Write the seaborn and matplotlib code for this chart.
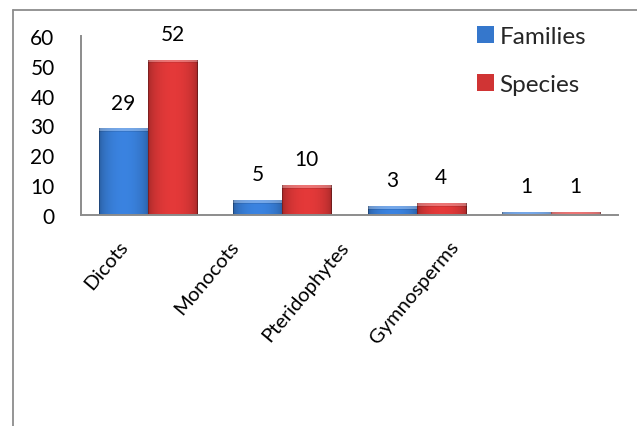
import numpy as np
import pandas as pd
import matplotlib
matplotlib.use("Agg")
import matplotlib.pyplot as plt
from matplotlib.lines import Line2D
from matplotlib.patches import Patch
from matplotlib.colors import to_rgb
from matplotlib.transforms import ScaledTranslation, blended_transform_factory
import seaborn as sns

# Plant group counts
groups = ["Dicots", "Monocots", "Pteridophytes", "Gymnosperms"]
families = [29, 5, 3, 1]
species = [52, 10, 4, 1]
series_names = ["Families", "Species"]
series_colors = ["#3577cc", "#d03434"]
y_ticks = [0, 10, 20, 30, 40, 50, 60]

df = pd.DataFrame({
    "group": groups * 2,
    "series": [series_names[0]] * len(groups) + [series_names[1]] * len(groups),
    "count": families + species,
})

sns.set_theme(style="white")
plt.rcParams["font.family"] = ["Lato", "DejaVu Sans"]

W, H, DPI = 637, 427, 100
fig = plt.figure(figsize=(W / DPI, H / DPI), dpi=DPI)
ax = fig.add_axes([81 / W, 1 - 216 / H, (618 - 81) / W, (216 - 37) / H])

sns.barplot(data=df, x="group", y="count", hue="series", order=groups,
            hue_order=series_names, palette=series_colors, width=0.73,
            saturation=1, legend=False, ax=ax, errorbar=None)

ax.set_xlim(-0.5, len(groups) - 0.5)
ax.set_ylim(0, 60)
ax.set_yticks(y_ticks)
ax.set_xlabel("")
ax.set_ylabel("")
for s in ["top", "right"]:
    ax.spines[s].set_visible(False)
for s in ["left", "bottom"]:
    ax.spines[s].set_color("#8c8c8c")
    ax.spines[s].set_linewidth(1.4)
ax.tick_params(axis="y", length=0, pad=19, labelsize=15, labelcolor="black")
ax.tick_params(axis="x", length=0, labelbottom=False)

# rotated category labels, stepped slightly left of each category
cat_tr = blended_transform_factory(ax.transData, ax.transAxes)
for i, name in enumerate(groups):
    off = ScaledTranslation((-23 - 24 * i) / DPI, -28 / DPI, fig.dpi_scale_trans)
    ax.text(i, 0, name, transform=cat_tr + off, rotation=50,
            rotation_mode="anchor", ha="right", va="center",
            fontsize=14.5, color="black", clip_on=False)

# value labels above each bar
for cont in ax.containers:
    ax.bar_label(cont, labels=[f"{v:g}" for v in cont.datavalues],
                 padding=11.5, fontsize=15, color="black")

# shaded, bevelled bar faces
fig.canvas.draw()
to_px = ax.transData
for cont, col in zip(ax.containers, series_colors):
    base = np.array(to_rgb(col))
    for p in cont.patches:
        x0, y0 = p.get_x(), p.get_y()
        w, h = p.get_width(), p.get_height()
        (px0, py0), (px1, py1) = to_px.transform([(x0, y0), (x0 + w, y0 + h)])
        nw = max(int(round(px1 - px0)), 2)
        nh = max(int(round(py1 - py0)), 1)
        t = np.linspace(0, 1, nw)
        f = 0.76 + 0.34 * np.sin(np.pi * t) ** 0.5
        img = np.clip(base[None, None, :] * f[None, :, None], 0, 1)
        img = np.repeat(img, nh, axis=0)
        bev = min(3, nh)
        img[:bev] = img[:bev] * 0.7 + 0.3
        if nh > bev + 1:
            img[bev] = img[bev] * 0.9
        img[:, :1] *= 0.8
        img[:, -1:] *= 0.72
        im = ax.imshow(img, extent=(x0, x0 + w, y0, y0 + h), aspect="auto",
                       origin="upper", interpolation="bilinear", zorder=p.get_zorder() + 0.1)
        im.set_clip_path(p)
ax.set_xlim(-0.5, len(groups) - 0.5)
ax.set_ylim(0, 60)

# legend with square keys
handles = [Patch(facecolor=c, edgecolor="none") for c in series_colors]
fig.legend(handles, series_names, loc="upper left",
           bbox_to_anchor=(477 / W, 1 - 27 / H), frameon=False, fontsize=17.5,
           handlelength=0.68, handleheight=0.68, handletextpad=0.25,
           labelspacing=1.1, borderpad=0, borderaxespad=0)

# outer chart frame
frame_kw = dict(color="#8c8c8c", linewidth=1.3, transform=fig.transFigure)
fig.add_artist(Line2D([12.5 / W, 1.0], [1 - 10.5 / H, 1 - 10.5 / H], **frame_kw))
fig.add_artist(Line2D([12.5 / W, 12.5 / W], [0.0, 1 - 10.5 / H], **frame_kw))

fig.savefig("out.png", dpi=DPI)
